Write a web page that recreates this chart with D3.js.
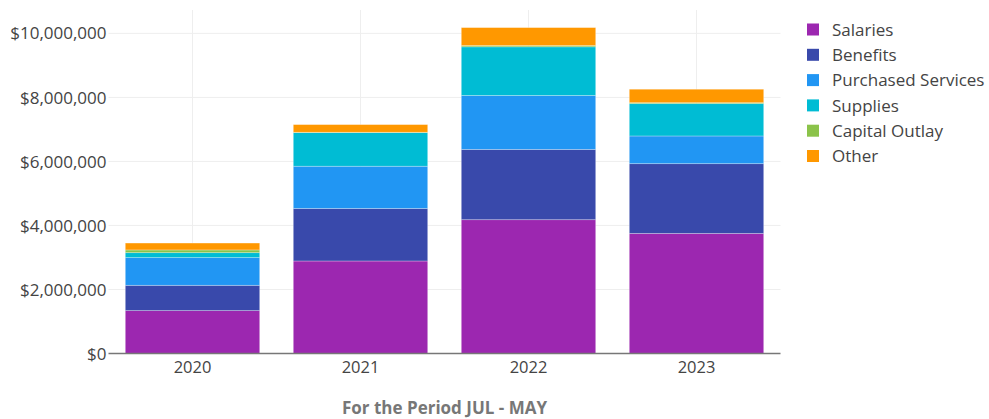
<!DOCTYPE html>
<html>
<head>
<meta charset="utf-8">
<script src="https://cdn.jsdelivr.net/npm/d3@7"></script>
<style>
    body { margin: 0; background: #fff; }
    svg { font-family: "Open Sans", sans-serif; }
</style>
</head>
<body>
<svg id="chart" width="989" height="419"></svg>
<script>
// data
const years = ["2020", "2021", "2022", "2023"];
const categories = ["Salaries", "Benefits", "Purchased Services", "Supplies", "Capital Outlay", "Other"];
const salaries = [1340000, 2890000, 4180000, 3750000];
const benefits = [790000, 1640000, 2195000, 2180000];
const purchased = [865000, 1320000, 1685000, 865000];
const supplies = [155000, 1050000, 1520000, 1010000];
const capitalOutlay = [85000, 10000, 40000, 30000];
const other = [215000, 240000, 560000, 420000];
const yTicks = [0, 2000000, 4000000, 6000000, 8000000, 10000000];
const colors = ["#9c27b0", "#3949ab", "#2196f3", "#00bcd4", "#8bc34a", "#ff9800"];

const series = [salaries, benefits, purchased, supplies, capitalOutlay, other];
const rows = years.map((yr, i) => {
    let r = { year: yr };
    categories.forEach((c, k) => r[c] = series[k][i]);
    return r;
});

const svg = d3.select("#chart");
const plotLeft = 108.5, plotRight = 780.5, plotTop = 10, plotBottom = 353.5;

const x = d3.scaleBand()
    .domain(years)
    .range([plotLeft, plotRight])
    .paddingInner(0.2)
    .paddingOuter(0.1);

const y = d3.scaleLinear()
    .domain([0, 10730000])
    .range([plotBottom, plotTop]);

// grid
svg.append("g")
    .selectAll("line.hgrid")
    .data(yTicks.slice(1))
    .enter().append("line")
    .attr("class", "hgrid")
    .attr("x1", plotLeft)
    .attr("x2", plotRight)
    .attr("y1", d => y(d))
    .attr("y2", d => y(d))
    .attr("stroke", "#eee")
    .attr("stroke-width", 1);

svg.append("g")
    .selectAll("line.vgrid")
    .data(years)
    .enter().append("line")
    .attr("class", "vgrid")
    .attr("x1", d => x(d) + x.bandwidth() / 2)
    .attr("x2", d => x(d) + x.bandwidth() / 2)
    .attr("y1", plotTop)
    .attr("y2", plotBottom)
    .attr("stroke", "#eee")
    .attr("stroke-width", 1);

// bars
const stacked = d3.stack().keys(categories)(rows);

svg.append("g")
    .selectAll("g.layer")
    .data(stacked)
    .enter().append("g")
    .attr("class", "layer")
    .attr("fill", (d, i) => colors[i])
    .selectAll("rect")
    .data(d => d)
    .enter().append("rect")
    .attr("x", d => x(d.data.year))
    .attr("width", x.bandwidth())
    .attr("y", d => y(d[1]))
    .attr("height", d => y(d[0]) - y(d[1]))
    .attr("stroke", "rgba(255,255,255,0.35)")
    .attr("stroke-width", 0.8);

// zero line
svg.append("line")
    .attr("x1", plotLeft)
    .attr("x2", plotRight)
    .attr("y1", y(0))
    .attr("y2", y(0))
    .attr("stroke", "#777")
    .attr("stroke-width", 1.5);

// y labels
svg.append("g")
    .selectAll("text")
    .data(yTicks)
    .enter().append("text")
    .attr("x", plotLeft - 2)
    .attr("y", d => y(d))
    .attr("dy", "0.36em")
    .attr("text-anchor", "end")
    .attr("font-size", 17)
    .attr("fill", "#444")
    .text(d => "$" + d3.format(",")(d));

// x labels
svg.append("g")
    .selectAll("text")
    .data(years)
    .enter().append("text")
    .attr("x", d => x(d) + x.bandwidth() / 2)
    .attr("y", 373)
    .attr("text-anchor", "middle")
    .attr("font-size", 16.5)
    .attr("fill", "#444")
    .text(d => d);

// axis title
svg.append("text")
    .attr("x", (plotLeft + plotRight) / 2)
    .attr("y", 414)
    .attr("text-anchor", "middle")
    .attr("font-size", 17)
    .attr("font-weight", "bold")
    .attr("fill", "#777")
    .text("For the Period JUL - MAY");

// legend
let legend = svg.append("g")
    .selectAll("g")
    .data(categories)
    .enter().append("g")
    .attr("transform", (d, i) => "translate(807," + (29.5 + i * 25.3) + ")");

legend.append("rect")
    .attr("x", 0)
    .attr("y", -6)
    .attr("width", 12)
    .attr("height", 12)
    .attr("fill", (d, i) => colors[i]);

legend.append("text")
    .attr("x", 25)
    .attr("dy", "0.36em")
    .attr("font-size", 17)
    .attr("fill", "#444")
    .text(d => d);
</script>
</body>
</html>
